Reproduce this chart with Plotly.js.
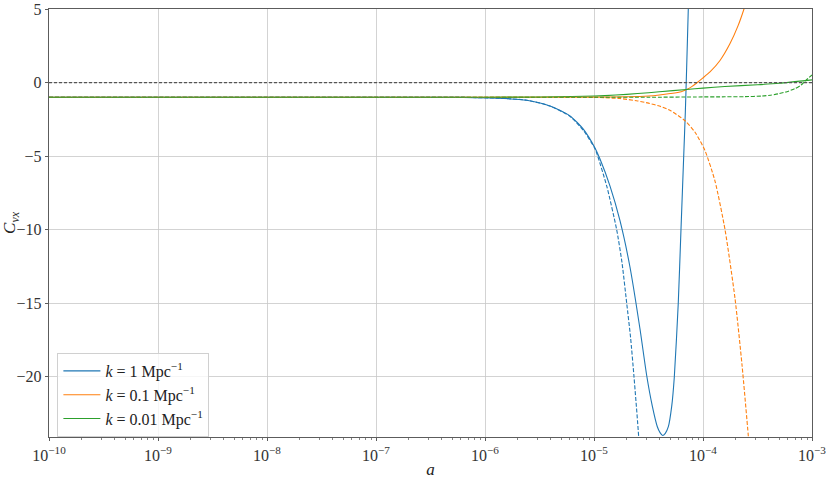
<!DOCTYPE html>
<html>
<head>
<meta charset="utf-8">
<script src="https://cdn.plot.ly/plotly-3.0.1.min.js"></script>
<style>html,body{margin:0;padding:0;background:#fff;}#chart{width:830px;height:480px;}</style>
</head>
<body>
<div id="chart"></div>
<script>
// log10(a) values and C_vx values
const blueSolidLogA = [-10, -7, -6.5, -6.2, -5.893, -5.617, -5.404, -5.220, -5.098, -4.991, -4.945, -4.853, -4.761, -4.670, -4.578, -4.517, -4.465, -4.419, -4.394, -4.370, -4.346, -4.318, -4.287, -4.263, -4.227, -4.202, -4.177, -4.162, -4.150, -4.135, -4.124];
const blueSolidC    = [-1, -1, -1.0, -1.01, -1.06, -1.2, -1.59, -2.27, -3.17, -4.45, -5.2, -7.04, -9.41, -12.54, -16.76, -19.9, -22.0, -23.4, -23.8, -24.0, -23.85, -23.4, -22.0, -20, -15, -10, -5, -2, 1, 5, 8];

const blueDashLogA = [-10, -7, -6.5, -6.2, -5.893, -5.617, -5.404, -5.220, -5.098, -4.991, -4.966, -4.881, -4.792, -4.743, -4.700, -4.665, -4.633, -4.590, -4.569];
const blueDashC    = [-1, -1, -1.0, -1.01, -1.06, -1.2, -1.6, -2.3, -3.25, -4.5, -5, -7.1, -10, -12.25, -15, -17.3, -20, -24.1, -27];

const orangeSolidLogA = [-10, -6, -5.5, -5.0, -4.7, -4.5, -4.4, -4.3, -4.2, -4.15, -4.1, -4.058, -4.003, -3.936, -3.844, -3.752, -3.679, -3.624, -3.596];
const orangeSolidC    = [-1, -1, -1.0, -0.99, -0.97, -0.92, -0.85, -0.75, -0.62, -0.47, -0.26, -0.03, 0.3, 0.72, 1.5, 2.65, 3.85, 5, 5.7];

const orangeDashLogA = [-10, -6, -5.5, -5.0, -4.9, -4.76, -4.6, -4.5, -4.4, -4.3, -4.165, -4.073, -3.982, -3.890, -3.798, -3.706, -3.642, -3.584, -3.560];
const orangeDashC    = [-1, -1, -1.0, -1.01, -1.03, -1.09, -1.25, -1.4, -1.6, -1.9, -2.6, -3.38, -4.62, -6.7, -10, -14.7, -19.2, -24.05, -26.3];

const greenSolidLogA = [-10, -6, -5.5, -5.2, -5.0, -4.8, -4.6, -4.4, -4.15, -4.0, -3.8, -3.5, -3.3, -3.0];
const greenSolidC    = [-1, -1.0, -0.98, -0.95, -0.92, -0.85, -0.75, -0.63, -0.47, -0.38, -0.27, -0.15, -0.05, 0.18];

const greenDashLogA = [-10, -5, -4.5, -4.07, -3.8, -3.615, -3.46, -3.38, -3.31, -3.23, -3.156, -3.1, -3.064, -3.0];
const greenDashC    = [-1, -1, -1.0, -0.98, -0.97, -0.96, -0.92, -0.86, -0.77, -0.62, -0.41, -0.17, 0.09, 0.52];

const zeroLogA = [-10, -3];
const zeroC = [0, 0];

const seriesNames = ['<i>k</i> = 1 Mpc<sup>−1</sup>', '<i>k</i> = 0.1 Mpc<sup>−1</sup>', '<i>k</i> = 0.01 Mpc<sup>−1</sup>'];
const xTickExp = [-10, -9, -8, -7, -6, -5, -4, -3];
const yTickVals = [5, 0, -5, -10, -15, -20];
const yTickText = ['5', '0', '−5', '−10', '−15', '−20'];

const toA = arr => arr.map(v => Math.pow(10, v));
const colors = ['#1f77b4', '#ff7f0e', '#2ca02c'];
const dashPat = '4px,1.8px';
const FONT = '"Liberation Serif", "DejaVu Serif", serif';

function line(logA, c, color, dash, name, show) {
  return {
    x: toA(logA), y: c, type: 'scatter', mode: 'lines',
    line: {color: color, width: 1.1, dash: dash, shape: 'spline', smoothing: 0.6},
    name: name, showlegend: show, hoverinfo: 'skip'
  };
}

const traces = [
  line(blueSolidLogA, blueSolidC, colors[0], 'solid', seriesNames[0], true),
  line(orangeSolidLogA, orangeSolidC, colors[1], 'solid', seriesNames[1], true),
  line(greenSolidLogA, greenSolidC, colors[2], 'solid', seriesNames[2], true),
  line(blueDashLogA, blueDashC, colors[0], dashPat, '', false),
  line(orangeDashLogA, orangeDashC, colors[1], dashPat, '', false),
  line(greenDashLogA, greenDashC, colors[2], dashPat, '', false),
  {x: toA(zeroLogA), y: zeroC, type: 'scatter', mode: 'lines',
   line: {color: '#555', width: 1.2, dash: '3px,2px'}, showlegend: false, hoverinfo: 'skip'}
];

const minorVals = [];
for (let e = -10; e < -3; e++) for (let m = 2; m <= 9; m++) minorVals.push(m * Math.pow(10, e));

const layout = {
  width: 830, height: 480,
  margin: {l: 49, r: 18, t: 9, b: 43},
  paper_bgcolor: '#fff', plot_bgcolor: '#fff',
  font: {family: FONT, size: 16, color: '#222'},
  showlegend: true,
  legend: {
    x: 0.011, y: 0.0, xanchor: 'left', yanchor: 'bottom',
    bgcolor: 'rgba(255,255,255,0.8)', bordercolor: '#d0d0d0', borderwidth: 1,
    font: {family: FONT, size: 16, color: '#222'},
    tracegroupgap: 0, itemwidth: 37
  },
  xaxis: {
    type: 'log', range: [-10, -3],
    tickmode: 'array', tickvals: xTickExp.map(e => Math.pow(10, e)),
    ticktext: xTickExp.map(e => '10<sup>−' + Math.abs(e) + '</sup>'),
    ticks: 'outside', ticklen: 3.5, tickwidth: 0.8, tickcolor: '#333',
    showgrid: true, gridcolor: '#c8c8c8', gridwidth: 0.8,
    showline: true, linecolor: '#333', linewidth: 0.8, mirror: true,
    zeroline: false,
    minor: {tickmode: 'array', tickvals: minorVals, ticks: 'outside', ticklen: 2, tickwidth: 0.6, tickcolor: '#333', showgrid: false},
    title: {text: '<i>a</i>', font: {family: FONT, size: 17, color: '#222'}, standoff: 0},
    tickfont: {family: FONT, size: 16, color: '#333'}
  },
  yaxis: {
    range: [-24.1, 5],
    tickmode: 'array', tickvals: yTickVals, ticktext: yTickText,
    ticks: 'outside', ticklen: 3.5, tickwidth: 0.8, tickcolor: '#333',
    showgrid: true, gridcolor: '#c8c8c8', gridwidth: 0.8,
    showline: true, linecolor: '#333', linewidth: 0.8, mirror: true,
    zeroline: false,
    title: {text: '<i>C</i><sub><i>vx</i></sub>', font: {family: FONT, size: 17, color: '#222'}, standoff: 4},
    tickfont: {family: FONT, size: 16, color: '#333'}
  }
};

Plotly.newPlot('chart', traces, layout, {staticPlot: true, displayModeBar: false});
</script>
</body>
</html>
